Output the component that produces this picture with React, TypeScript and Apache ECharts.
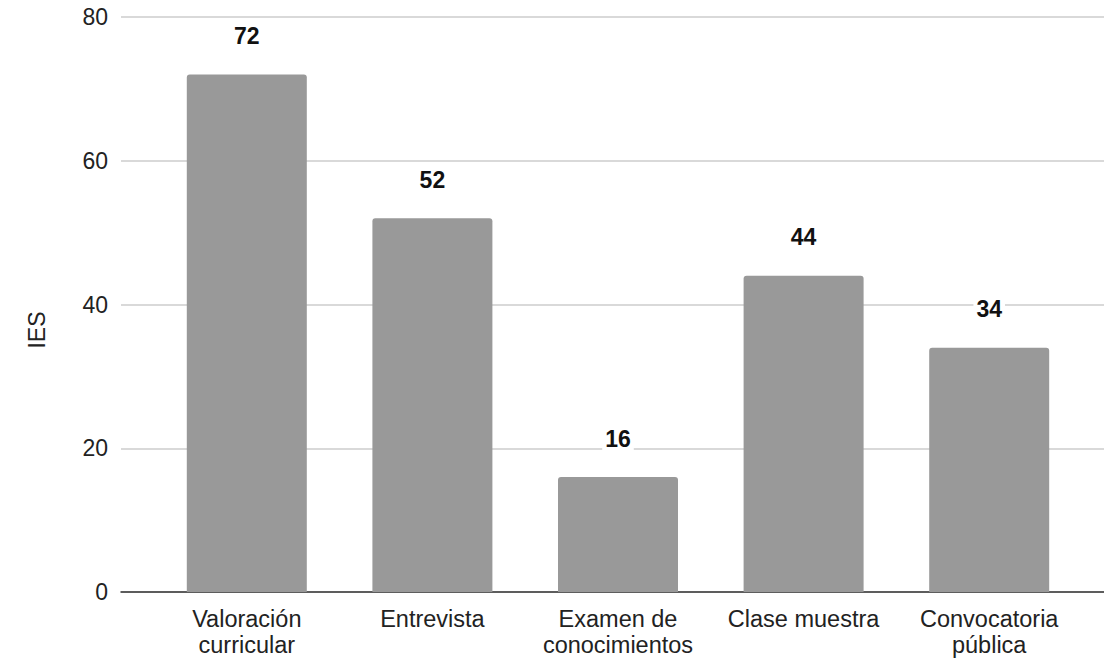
import React, { useEffect, useRef } from "react";
import * as echarts from "echarts";

const categories = ["Valoración\ncurricular", "Entrevista", "Examen de\nconocimientos", "Clase muestra", "Convocatoria\npública"];
const values = [72, 52, 16, 44, 34];
const yTicks = { min: 0, max: 80, interval: 20 };
const yAxisTitle = "IES";

const FONT = "'Liberation Sans', Arial, sans-serif";

export default function App() {
  const ref = useRef<HTMLDivElement>(null);
  useEffect(() => {
    if (!ref.current) return;
    const chart = echarts.init(ref.current, null, { renderer: "svg" });
    chart.setOption({
      animation: false,
      backgroundColor: "#ffffff",
      textStyle: { fontFamily: FONT },
      grid: [
        { left: 121, right: 0, top: 17, bottom: 67 },
        { left: 154, right: 22, top: 17, bottom: 67 },
      ],
      xAxis: [
        {
          gridIndex: 0,
          type: "value",
          min: 0,
          max: 1,
          axisLine: { show: true, lineStyle: { color: "#333333", width: 1.5 } },
          axisTick: { show: false },
          axisLabel: { show: false },
          splitLine: { show: false },
        },
        {
          gridIndex: 1,
          type: "category",
          data: categories,
          axisLine: { show: false },
          axisTick: { show: false },
          axisLabel: {
            fontSize: 23.5,
            lineHeight: 26,
            color: "#222222",
            fontFamily: FONT,
            margin: 14,
            interval: 0,
          },
        },
      ],
      yAxis: [
        {
          gridIndex: 0,
          type: "value",
          min: yTicks.min,
          max: yTicks.max,
          interval: yTicks.interval,
          axisLine: { show: false },
          axisTick: { show: false },
          axisLabel: { fontSize: 23, color: "#222222", fontFamily: FONT, margin: 13 },
          splitLine: { show: true, lineStyle: { color: "#cccccc", width: 1.5 } },
        },
        {
          gridIndex: 1,
          type: "value",
          min: yTicks.min,
          max: yTicks.max,
          interval: yTicks.interval,
          show: false,
          splitLine: { show: false },
        },
      ],
      graphic: [
        {
          type: "text",
          x: 37,
          y: 330,
          rotation: Math.PI / 2,
          style: {
            text: yAxisTitle,
            fontSize: 23,
            fontFamily: FONT,
            fill: "#222222",
            textAlign: "center",
            textVerticalAlign: "middle",
          },
        },
      ],
      series: [
        {
          type: "bar",
          xAxisIndex: 1,
          yAxisIndex: 1,
          data: values,
          barWidth: 120,
          itemStyle: { color: "#999999", borderRadius: [3, 3, 0, 0] },
          label: {
            show: true,
            position: "top",
            distance: 27,
            fontSize: 23,
            fontWeight: "bold",
            color: "#111111",
            fontFamily: FONT,
            backgroundColor: "#ffffff",
            padding: [0, 3],
          },
        },
      ],
    });
    return () => chart.dispose();
  }, []);
  return (
    <div
      ref={ref}
      style={{ position: "fixed", left: 0, top: 0, width: 1104, height: 659, background: "#fff" }}
    />
  );
}
